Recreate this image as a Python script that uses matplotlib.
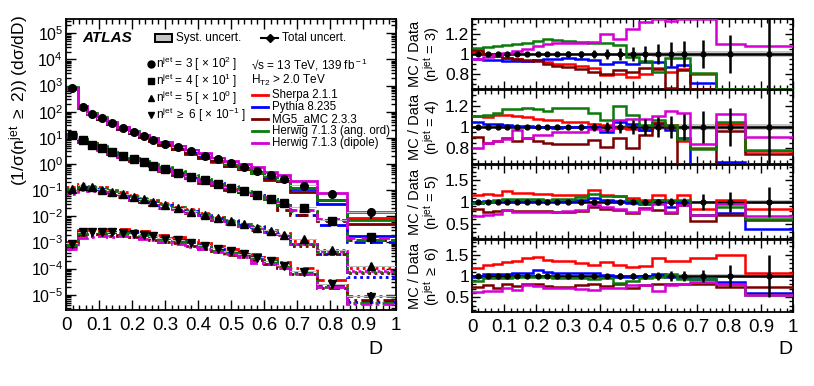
import numpy as np
import matplotlib
matplotlib.use('Agg')
import matplotlib.pyplot as plt
from matplotlib.ticker import MultipleLocator, LogLocator, NullFormatter, FuncFormatter, LogFormatterSciNotation
from matplotlib.patches import Rectangle
from matplotlib.lines import Line2D

plt.rcParams['font.family'] = ['Liberation Sans', 'DejaVu Sans']
plt.rcParams['mathtext.fontset'] = 'custom'
plt.rcParams['mathtext.rm'] = 'Liberation Sans'
plt.rcParams['mathtext.it'] = 'Liberation Sans:italic'
plt.rcParams['mathtext.bf'] = 'Liberation Sans:bold'

# ---------------- data ----------------
bin_edges = [0, .035, .065, .095, .125, .155, .19, .22, .25, .28, .32, .36, .40,
             .44, .48, .52, .56, .60, .64, .68, .76, .85, 1.0]

multiplicities = ["3", "4", "5", "6"]
scale_factors = [100, 10, 1, 0.1]
scale_labels = ["2", "1", "0", "-1"]

data_n3 = [8.0, 1.5, 0.85, 0.55, 0.36, 0.24, 0.16, 0.115, 0.085, 0.060, 0.043, 0.030,
           0.021, 0.015, 0.0105, 0.0077, 0.0054, 0.0037, 0.0026, 0.0015, 0.00072, 0.00014]
data_n4 = [1.3, 0.80, 0.55, 0.40, 0.28, 0.20, 0.15, 0.115, 0.087, 0.064, 0.046, 0.033,
           0.024, 0.0175, 0.0125, 0.009, 0.0064, 0.0046, 0.0031, 0.0021, 0.00068, 0.00016]
data_n5 = [0.11, 0.15, 0.13, 0.105, 0.085, 0.068, 0.055, 0.044, 0.035, 0.027, 0.020, 0.015,
           0.011, 0.0085, 0.0066, 0.005, 0.0037, 0.0028, 0.002, 0.0013, 0.0005, 0.00012]
data_n6 = [0.009, 0.024, 0.025, 0.025, 0.024, 0.023, 0.021, 0.019, 0.017, 0.014, 0.012, 0.0095,
           0.0075, 0.0058, 0.0045, 0.0035, 0.0026, 0.0019, 0.0013, 0.00075, 0.00025, 0.000085]

# relative total uncertainty
tot_n3 = [0.01, 0.01, 0.01, 0.01, 0.01, 0.01, 0.015, 0.015, 0.02, 0.03, 0.035, 0.04,
          0.05, 0.06, 0.07, 0.08, 0.10, 0.12, 0.13, 0.14, 0.19, 0.45]
tot_n4 = [0.01, 0.01, 0.01, 0.01, 0.01, 0.01, 0.015, 0.015, 0.02, 0.02, 0.03, 0.035,
          0.045, 0.06, 0.07, 0.08, 0.09, 0.10, 0.12, 0.15, 0.18, 0.45]
tot_n5 = [0.02, 0.02, 0.02, 0.02, 0.02, 0.02, 0.02, 0.02, 0.025, 0.03, 0.035, 0.04,
          0.045, 0.05, 0.05, 0.06, 0.08, 0.10, 0.10, 0.19, 0.23, 0.35]
tot_n6 = [0.03, 0.03, 0.03, 0.03, 0.03, 0.03, 0.03, 0.03, 0.035, 0.04, 0.045, 0.05,
          0.05, 0.06, 0.06, 0.07, 0.10, 0.12, 0.12, 0.15, 0.25, 0.50]
# relative systematic uncertainty
syst_n3 = [0.01, 0.01, 0.01, 0.01, 0.01, 0.01, 0.01, 0.01, 0.01, 0.01, 0.012, 0.012,
           0.015, 0.015, 0.02, 0.02, 0.025, 0.025, 0.03, 0.03, 0.03, 0.03]
syst_n4 = [0.01, 0.01, 0.01, 0.01, 0.01, 0.01, 0.01, 0.01, 0.01, 0.01, 0.012, 0.012,
           0.015, 0.015, 0.02, 0.02, 0.025, 0.025, 0.03, 0.03, 0.03, 0.03]
syst_n5 = [0.02, 0.02, 0.02, 0.02, 0.02, 0.02, 0.02, 0.02, 0.02, 0.02, 0.02, 0.02,
           0.02, 0.025, 0.025, 0.025, 0.03, 0.03, 0.03, 0.03, 0.035, 0.035]
syst_n6 = [0.03, 0.03, 0.03, 0.03, 0.03, 0.03, 0.03, 0.03, 0.03, 0.03, 0.03, 0.03,
           0.03, 0.035, 0.035, 0.035, 0.04, 0.04, 0.04, 0.04, 0.045, 0.045]

generators = ["Sherpa 2.1.1", "Pythia 8.235", "MG5_aMC 2.3.3",
              "Herwig 7.1.3 (ang. ord)", "Herwig 7.1.3 (dipole)"]
gen_colors = ["#ff0000", "#0000ff", "#7a0000", "#0a7a0a", "#d400d4"]

# MC / Data ratios, order: Sherpa, Pythia, MG5, Herwig ang, Herwig dipole
ratio_n3 = [
    [1.02, 1.00, 0.98, 0.96, 0.95, 0.93, 0.94, 0.92, 0.90, 0.90, 0.88, 0.86, 0.79, 0.80, 0.77, 0.80, 0.86, 0.82, 0.85, 0.80, 0.60, 0.64],
    [0.95, 0.94, 0.94, 0.93, 0.93, 0.93, 0.94, 0.95, 0.95, 0.96, 0.95, 0.94, 0.90, 0.92, 0.90, 0.92, 0.92, 0.87, 0.89, 0.71, 0.40, 0.13],
    [1.04, 1.00, 0.98, 0.96, 0.95, 0.94, 0.93, 0.90, 0.88, 0.87, 0.85, 0.82, 0.80, 0.84, 0.82, 0.86, 0.85, 0.66, 0.84, 0.55, 0.58, 0.36],
    [1.06, 1.07, 1.08, 1.09, 1.10, 1.11, 1.13, 1.15, 1.14, 1.13, 1.12, 1.11, 1.11, 1.09, 0.97, 0.93, 0.82, 0.96, 0.96, 0.81, 0.58, 0.50],
    [0.95, 0.97, 0.99, 1.01, 1.03, 1.05, 1.08, 1.10, 1.11, 1.11, 1.11, 1.12, 1.20, 1.15, 1.25, 1.32, 1.45, 1.33, 1.45, 1.50, 1.10, 1.08],
]
ratio_n4 = [
    [1.10, 1.09, 1.11, 1.11, 1.10, 1.09, 1.08, 1.07, 1.065, 1.05, 1.05, 1.03, 1.02, 0.99, 0.98, 0.97, 1.04, 1.02, 0.87, 0.80, 1.03, 0.77],
    [1.05, 1.03, 1.03, 1.02, 1.01, 1.01, 1.00, 1.00, 0.99, 1.00, 1.00, 1.00, 0.95, 1.05, 1.03, 0.97, 1.03, 0.97, 0.90, 0.55, 0.67, 0.62],
    [0.91, 0.85, 0.87, 0.90, 0.87, 0.90, 0.87, 0.85, 0.84, 0.84, 0.84, 0.88, 0.81, 0.90, 0.80, 0.92, 1.04, 1.00, 0.55, 0.55, 0.96, 0.74],
    [1.10, 1.11, 1.13, 1.17, 1.17, 1.18, 1.17, 1.15, 1.18, 1.18, 1.18, 1.13, 1.07, 1.20, 1.11, 1.02, 1.07, 1.02, 0.89, 0.79, 1.05, 0.78],
    [0.80, 0.85, 0.87, 0.89, 0.97, 0.90, 0.92, 0.92, 0.95, 0.95, 0.95, 0.98, 0.97, 1.07, 1.08, 1.08, 1.10, 1.15, 1.13, 0.84, 1.12, 0.91],
]
ratio_n5 = [
    [1.15, 1.19, 1.15, 1.25, 1.20, 1.20, 1.19, 1.18, 1.17, 1.17, 1.16, 1.27, 1.17, 1.13, 1.09, 1.05, 1.15, 1.00, 1.15, 0.85, 1.04, 0.85],
    [0.98, 1.02, 1.02, 1.03, 1.02, 1.02, 1.02, 1.02, 1.02, 1.03, 1.05, 1.10, 1.05, 1.02, 0.98, 0.96, 1.04, 0.88, 1.00, 0.69, 0.75, 0.38],
    [0.85, 0.77, 0.79, 0.82, 0.79, 0.79, 0.79, 0.79, 0.77, 0.77, 0.80, 0.88, 0.85, 0.81, 0.75, 0.87, 0.81, 0.75, 0.92, 0.56, 0.69, 0.58],
    [0.98, 1.00, 1.04, 1.08, 1.06, 1.06, 1.06, 1.05, 1.06, 1.08, 1.12, 1.19, 1.13, 1.13, 1.04, 0.98, 1.05, 1.04, 1.04, 0.69, 0.88, 0.62],
    [0.67, 0.69, 0.73, 0.81, 0.77, 0.77, 0.77, 0.77, 0.77, 0.79, 0.82, 0.92, 0.88, 0.85, 0.77, 0.85, 0.96, 0.77, 0.92, 0.69, 0.96, 0.67],
]
ratio_n6 = [
    [1.20, 1.26, 1.28, 1.34, 1.36, 1.42, 1.46, 1.38, 1.36, 1.36, 1.30, 1.26, 1.32, 1.26, 1.22, 1.24, 1.42, 1.36, 1.36, 1.42, 1.50, 1.06],
    [0.98, 1.04, 1.04, 1.04, 1.06, 1.06, 1.14, 1.10, 1.08, 1.08, 1.06, 1.06, 1.02, 0.98, 0.98, 1.00, 1.04, 0.98, 0.96, 0.94, 0.86, 0.60],
    [0.74, 0.78, 0.72, 0.82, 0.76, 0.82, 0.80, 0.76, 0.74, 0.74, 0.78, 0.80, 0.76, 0.80, 0.72, 0.78, 0.82, 0.82, 0.80, 0.80, 0.74, 0.74],
    [0.88, 0.96, 0.96, 0.96, 0.98, 0.98, 0.98, 0.98, 0.96, 0.96, 0.96, 0.94, 0.96, 0.84, 0.88, 0.96, 0.98, 1.04, 0.94, 0.94, 0.82, 0.56],
    [0.62, 0.64, 0.64, 0.72, 0.68, 0.78, 0.76, 0.72, 0.72, 0.72, 0.70, 0.68, 0.72, 0.72, 0.78, 0.78, 0.64, 0.78, 0.82, 0.86, 0.80, 0.54],
]

datasets = [data_n3, data_n4, data_n5, data_n6]
totals = [tot_n3, tot_n4, tot_n5, tot_n6]
systs = [syst_n3, syst_n4, syst_n5, syst_n6]
ratios = [ratio_n3, ratio_n4, ratio_n5, ratio_n6]
markers = ['o', 's', '^', 'v']
line_styles = ['-', (0, (4, 2.2)), (0, (1, 1.3)), (0, (4, 1.5, 1, 1.5))]
ratio_ylims = [(0.65, 1.35), (0.65, 1.35), (0.15, 1.85), (0.15, 1.85)]
ratio_major = [0.2, 0.2, 0.5, 0.5]
ratio_minor = [0.05, 0.05, 0.1, 0.1]
ratio_ylabels = ["= 3)", "= 4)", "= 5)", r"$\geq$ 6)"]

# ---------------- figure ----------------
W, H = 814, 386
fig = plt.figure(figsize=(W / 100, H / 100), dpi=100)


def rect(x0, y0, x1, y1):
    return [x0 / W, 1 - y1 / H, (x1 - x0) / W, (y1 - y0) / H]


def fx(x):
    return x / W


def fy(y):
    return 1 - y / H


edges = np.array(bin_edges)
centers = 0.5 * (edges[1:] + edges[:-1])
widths = edges[1:] - edges[:-1]

FRAME_LW = 1.3

axL = fig.add_axes(rect(66, 19, 396, 310))
for i in range(4):
    d = np.array(datasets[i]) * scale_factors[i]
    r = np.array(ratios[i])
    for g in range(5):
        axL.stairs(d * r[g], edges, baseline=None, color=gen_colors[g], lw=2.0,
                   ls=line_styles[i], zorder=2)
for i in range(4):
    d = np.array(datasets[i]) * scale_factors[i]
    s = np.array(systs[i])
    t = np.array(totals[i])
    axL.bar(centers, 2 * s * d, bottom=d * (1 - s), width=widths, color='#bdbdbd',
            edgecolor='none', zorder=3)
    axL.errorbar(centers, d, yerr=t * d, fmt=markers[i], color='black', ms=5.5,
                 lw=1.5, capsize=0, zorder=4)

axL.set_yscale('log')
axL.set_xlim(0, 1)
axL.set_ylim(2.6e-6, 3.5e5)
axL.xaxis.set_major_locator(MultipleLocator(0.1))
axL.xaxis.set_minor_locator(MultipleLocator(0.02))
axL.xaxis.set_major_formatter(FuncFormatter(lambda v, p: '%g' % v))
axL.yaxis.set_major_locator(LogLocator(base=10, numticks=20))
axL.yaxis.set_minor_locator(LogLocator(base=10, subs=np.arange(2, 10), numticks=20))
axL.yaxis.set_minor_formatter(NullFormatter())
axL.yaxis.set_major_formatter(LogFormatterSciNotation())
axL.tick_params(which='both', direction='in', top=True, right=True, width=1.0)
axL.tick_params(which='major', length=7)
axL.tick_params(which='minor', length=3.5)
axL.tick_params(axis='x', labelsize=13.5, pad=5)
axL.tick_params(axis='y', labelsize=11.5, pad=2)
for sp in axL.spines.values():
    sp.set_linewidth(FRAME_LW)

# ratio panels
panel_rects = [(472, 19, 793, 89), (472, 90, 793, 164), (472, 165, 793, 239), (472, 240, 793, 312)]
for i in range(4):
    ax = fig.add_axes(rect(*panel_rects[i]))
    lo, hi = ratio_ylims[i]
    s = np.array(systs[i])
    t = np.array(totals[i])
    ax.stairs(1 + s, edges, baseline=1 - s, fill=True, color='#c4c4c4', zorder=1)
    ax.axhline(1, color='black', lw=1.8, zorder=2)
    r = np.array(ratios[i])
    for g in range(5):
        ax.stairs(np.clip(r[g], lo, hi), edges, baseline=None, color=gen_colors[g],
                  lw=1.8, zorder=3)
    ax.errorbar(centers, np.ones_like(centers), yerr=t, fmt='o', color='black', ms=3.5,
                lw=1.8, capsize=0, zorder=4)
    ax.set_xlim(0, 1)
    ax.set_ylim(lo, hi)
    ax.xaxis.set_major_locator(MultipleLocator(0.1))
    ax.xaxis.set_minor_locator(MultipleLocator(0.02))
    ax.yaxis.set_major_locator(MultipleLocator(ratio_major[i]))
    ax.yaxis.set_minor_locator(MultipleLocator(ratio_minor[i]))
    ax.yaxis.set_major_formatter(FuncFormatter(lambda v, p: '%g' % round(v, 3)))
    ax.xaxis.set_major_formatter(FuncFormatter(lambda v, p: '%g' % v))
    ax.tick_params(which='both', direction='in', top=True, right=True, width=1.0)
    ax.tick_params(which='major', length=6)
    ax.tick_params(which='minor', length=3)
    ax.tick_params(axis='y', labelsize=12.5, pad=2)
    ax.tick_params(axis='x', labelsize=13.5, pad=5)
    if i < 3:
        ax.tick_params(axis='x', labelbottom=False)
    for sp in ax.spines.values():
        sp.set_linewidth(FRAME_LW)
    yc = 0.5 * (panel_rects[i][1] + panel_rects[i][3])
    fig.text(fx(415), fy(yc), "MC / Data", rotation=90, ha='center', va='center', fontsize=10.5)
    fig.text(fx(432), fy(yc), r"(n$^{\rm jet}$ " + ratio_ylabels[i], rotation=90,
             ha='center', va='center', fontsize=10.5)

# axis titles
fig.text(fx(19), fy(15), r"(1/σ(n$^{\rm jet}$ $\geq$ 2)) (dσ/dD)", rotation=90,
         ha='center', va='top', fontsize=12.5)
fig.text(fx(382), fy(350), "D", ha='right', va='center', fontsize=14)
fig.text(fx(793), fy(350), "D", ha='right', va='center', fontsize=14)

# legend / labels on left plot
fig.text(fx(82), fy(38), "ATLAS", fontsize=11, fontweight='bold', fontstyle='italic',
         ha='left', va='center')
fig.patches.append(Rectangle((fx(155), fy(42)), fx(17), 8 / H, transform=fig.transFigure,
                             facecolor='#c4c4c4', edgecolor='black', lw=1.4))
fig.text(fx(176), fy(38), "Syst. uncert.", fontsize=8.5, ha='left', va='center')
fig.lines.append(Line2D([fx(261), fx(278)], [fy(38), fy(38)], transform=fig.transFigure,
                        color='black', lw=1.5, marker=None))
fig.lines.append(Line2D([fx(269.5)], [fy(38)], transform=fig.transFigure, color='black',
                        marker='D', ms=4, lw=0))
fig.text(fx(282), fy(38), "Total uncert.", fontsize=8.5, ha='left', va='center')

row_y = [64, 81, 98, 115]
rel = ["=", "=", "=", r"$\geq$"]
for i in range(4):
    fig.lines.append(Line2D([fx(151)], [fy(row_y[i])], transform=fig.transFigure,
                            color='black', marker=markers[i], ms=5, lw=0))
    fig.text(fx(156), fy(row_y[i]),
             r"n$^{\rm jet}$ " + rel[i] + " " + multiplicities[i] + r" [ $\times$ 10$^{" + scale_labels[i] + "}$ ]",
             fontsize=8.5, ha='left', va='center')

fig.text(fx(251), fy(65), r"√s = 13 TeV, 139 fb$^{\rm -1}$", fontsize=8.5, ha='left', va='center')
fig.text(fx(251), fy(80), r"H$_{\rm T2}$ > 2.0 TeV", fontsize=8.5, ha='left', va='center')

gen_y = [95, 107, 119, 131, 143]
for g in range(5):
    fig.lines.append(Line2D([fx(252), fx(268)], [fy(gen_y[g]), fy(gen_y[g])],
                            transform=fig.transFigure, color=gen_colors[g], lw=2.0))
    fig.text(fx(272), fy(gen_y[g]), generators[g], fontsize=8.3, ha='left', va='center')

fig.savefig("out.png", dpi=100)
